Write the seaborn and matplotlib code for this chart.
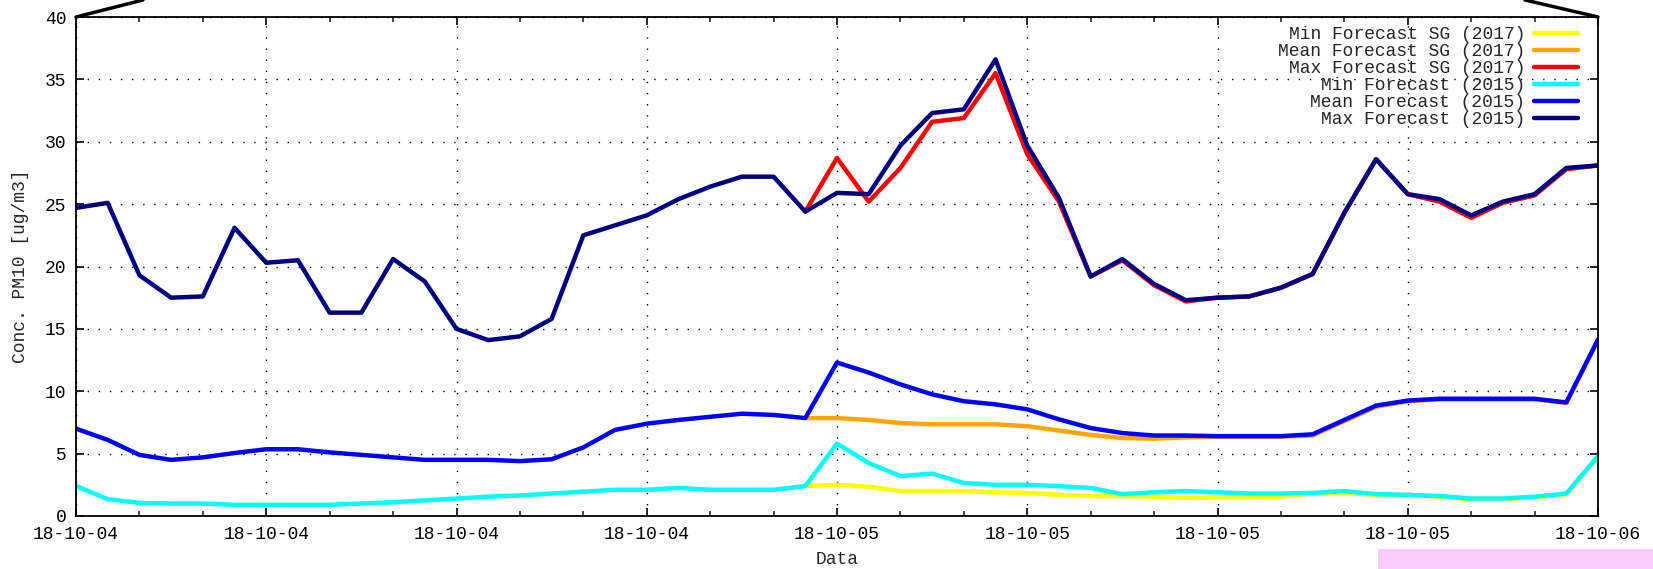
import numpy as np
import pandas as pd
import matplotlib
matplotlib.use("Agg")
import matplotlib.pyplot as plt
import matplotlib.dates as mdates
from matplotlib.lines import Line2D
from matplotlib.patches import Rectangle
import seaborn as sns

# hourly forecasts from 2018-10-04 00:00 to 2018-10-06 00:00
times = pd.date_range("2018-10-04 00:00", periods=49, freq="h")
nan = np.nan

min_sg_2017 = [nan] * 23 + [2.4, 2.5, 2.35, 2.0, 2.0, 2.0, 1.9, 1.85, 1.7, 1.6,
                            1.6, 1.55, 1.45, 1.5, 1.5, 1.55, 1.8, 1.85, 1.7, 1.7,
                            1.55, 1.35, 1.35, 1.5, 1.75, 4.75]
mean_sg_2017 = [nan] * 23 + [7.85, 7.85, 7.7, 7.45, 7.35, 7.35, 7.35, 7.2, 6.85, 6.5,
                             6.25, 6.2, 6.3, 6.35, 6.35, 6.35, 6.45, 7.6, 8.75, 9.2,
                             9.35, 9.35, 9.35, 9.35, 9.05, 14.1]
max_sg_2017 = [nan] * 23 + [24.4, 28.7, 25.2, 27.9, 31.6, 31.9, 35.5, 29.0, 25.2, 19.2,
                            20.5, 18.5, 17.2, 17.5, 17.6, 18.3, 19.4, 24.3, 28.6, 25.8,
                            25.2, 23.9, 25.1, 25.7, 27.8, 28.1]
min_2015 = [2.4, 1.35, 1.05, 1.0, 1.0, 0.9, 0.9, 0.9, 0.9, 1.0,
            1.1, 1.25, 1.4, 1.55, 1.65, 1.8, 1.95, 2.1, 2.1, 2.25,
            2.1, 2.1, 2.1, 2.4, 5.8, 4.25, 3.2, 3.4, 2.65, 2.5,
            2.5, 2.4, 2.25, 1.75, 1.9, 2.0, 1.9, 1.8, 1.8, 1.85,
            2.0, 1.75, 1.7, 1.6, 1.4, 1.4, 1.55, 1.8, 4.8]
mean_2015 = [7.0, 6.1, 4.9, 4.5, 4.7, 5.05, 5.35, 5.35, 5.1, 4.9,
             4.7, 4.5, 4.5, 4.5, 4.4, 4.55, 5.5, 6.9, 7.4, 7.7,
             7.95, 8.2, 8.1, 7.85, 12.3, 11.5, 10.55, 9.75, 9.2, 8.95,
             8.55, 7.75, 7.05, 6.65, 6.45, 6.45, 6.4, 6.4, 6.4, 6.55,
             7.7, 8.85, 9.25, 9.4, 9.4, 9.4, 9.4, 9.1, 14.15]
max_2015 = [24.7, 25.1, 19.3, 17.5, 17.6, 23.1, 20.3, 20.5, 16.3, 16.3,
            20.6, 18.8, 15.0, 14.1, 14.4, 15.8, 22.5, 23.3, 24.1, 25.4,
            26.4, 27.2, 27.2, 24.4, 25.9, 25.8, 29.7, 32.3, 32.6, 36.6,
            29.7, 25.5, 19.2, 20.6, 18.6, 17.3, 17.5, 17.6, 18.3, 19.4,
            24.3, 28.6, 25.8, 25.4, 24.1, 25.2, 25.8, 27.9, 28.1]

series_names = ["Min Forecast SG (2017)", "Mean Forecast SG (2017)", "Max Forecast SG (2017)",
                "Min Forecast (2015)", "Mean Forecast (2015)", "Max Forecast (2015)"]
series_values = [min_sg_2017, mean_sg_2017, max_sg_2017, min_2015, mean_2015, max_2015]
colors = ["#ffff00", "#ffa500", "#ff0000", "#00ffff", "#0000ff", "#000080"]

df = pd.concat(
    [pd.DataFrame({"time": times, "value": vals, "series": name})
     for name, vals in zip(series_names, series_values)],
    ignore_index=True,
).dropna()

sns.set_style("ticks")
plt.rcParams.update({
    "font.family": ["Liberation Mono", "DejaVu Sans Mono"],
    "font.size": 13,
    "axes.linewidth": 1.3,
    "axes.edgecolor": "black",
})

fig = plt.figure(figsize=(16.53, 5.69), dpi=100)
ax = fig.add_axes([76 / 1653, 1 - 516 / 569, 1522 / 1653, 499 / 569])

sns.lineplot(data=df, x="time", y="value", hue="series", hue_order=series_names,
             palette=colors, estimator=None, linewidth=3.2, ax=ax)

ax.set_xlim(times[0], times[-1])
ax.set_ylim(0, 40)
ax.set_yticks(np.arange(0, 41, 5))
ax.xaxis.set_major_locator(mdates.HourLocator(byhour=range(0, 24, 6)))
ax.xaxis.set_minor_locator(mdates.HourLocator(byhour=range(0, 24, 2)))
ax.xaxis.set_major_formatter(mdates.DateFormatter("%y-%m-%d"))
ax.tick_params(which="major", direction="in", length=6, width=1.2, top=True, right=True,
               pad=7, labelsize=13, colors="black")
ax.tick_params(which="minor", direction="in", length=3.5, width=1.2, top=True, right=True)
ax.grid(True, which="major", color="black", linestyle=(0, (1, 7)), linewidth=1.0)

ax.set_xlabel("Data", fontsize=13)
ax.set_ylabel("Conc. PM10 [ug/m3]", fontsize=13)
ax.xaxis.set_label_coords(0.5, -0.07)
ax.yaxis.set_label_coords(-0.031, 0.5)

handles, labels = ax.get_legend_handles_labels()
ax.legend(handles, labels, loc="upper right", bbox_to_anchor=(0.9925, 1.0),
          frameon=False, markerfirst=False, fontsize=13, handlelength=2.4,
          handletextpad=0.5, labelspacing=0.0, borderpad=0.0)

# zoom indicator lines and the strip below, as in the source page
fig.add_artist(Line2D([76 / 1653, 143 / 1653], [1 - 17 / 569, 1.0], color="black", lw=2.5))
fig.add_artist(Line2D([1598 / 1653, 1525 / 1653], [1 - 17 / 569, 1.0], color="black", lw=2.5))
fig.add_artist(Rectangle((1378 / 1653, 0), 1 - 1378 / 1653, 20 / 569,
                         transform=fig.transFigure, color="#facbfa", lw=0))

fig.savefig("out.png", dpi=100)
